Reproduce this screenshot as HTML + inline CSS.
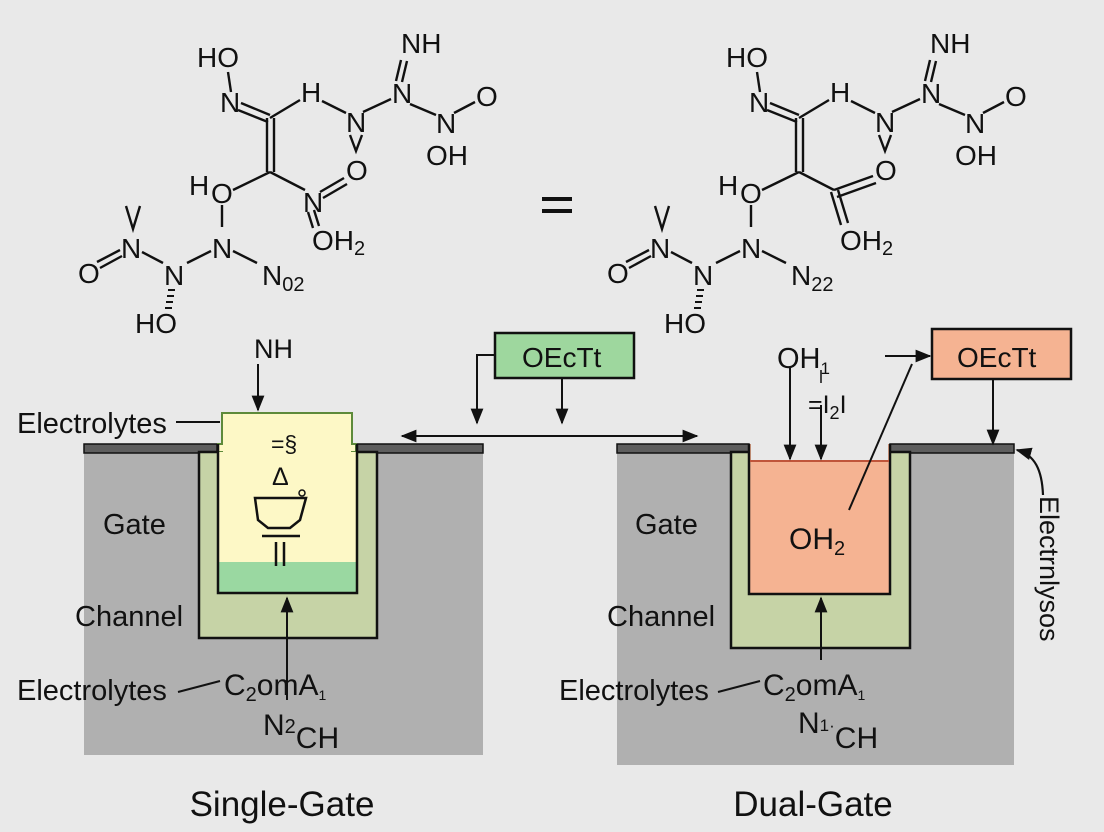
<!DOCTYPE html>
<html><head><meta charset="utf-8"><style>
html,body{margin:0;padding:0;background:#e9e9e9;}
svg{display:block;}
text{font-family:"Liberation Sans",sans-serif;fill:#111;}
</style></head><body>
<svg width="1104" height="832" viewBox="0 0 1104 832" xmlns="http://www.w3.org/2000/svg">
<defs>
<marker id="ab" viewBox="0 0 10 10" refX="9" refY="5" markerWidth="16" markerHeight="16" orient="auto-start-reverse" markerUnits="userSpaceOnUse"><path d="M0,1 L10,5 L0,9 z" fill="#111"/></marker>
<g id="molbase" stroke="#111" stroke-width="2.4" fill="none">
<line x1="228" y1="72" x2="231" y2="92"/>
<line x1="238" y1="110" x2="268" y2="122"/><line x1="241" y1="103" x2="270" y2="115"/>
<line x1="270" y1="118" x2="300" y2="100"/>
<line x1="322" y1="101" x2="346" y2="113"/>
<line x1="363" y1="112" x2="391" y2="99"/>
<line x1="396" y1="81" x2="401" y2="60"/><line x1="402" y1="82" x2="407" y2="61"/>
<line x1="410" y1="104" x2="436" y2="115"/>
<line x1="454" y1="113" x2="475" y2="102"/>
<line x1="267" y1="118" x2="267" y2="172"/><line x1="274" y1="118" x2="274" y2="172"/>
<line x1="270" y1="172" x2="233" y2="190"/>
<line x1="270" y1="172" x2="305" y2="190"/>
<line x1="222" y1="205" x2="222" y2="227"/>
<line x1="211" y1="251" x2="187" y2="263"/>
<line x1="233" y1="251" x2="257" y2="263"/>
<line x1="142" y1="252" x2="163" y2="263"/>
<line x1="97" y1="262" x2="120" y2="250"/><line x1="100" y1="268" x2="122" y2="256"/>
<g stroke-width="2"><line x1="168" y1="290" x2="175" y2="290"/><line x1="167" y1="296" x2="174" y2="296"/><line x1="166" y1="302" x2="173" y2="302"/><line x1="165" y1="308" x2="172" y2="308"/></g>
</g>
</defs>

<!-- Left molecule -->
<use href="#molbase"/>
<g stroke="#111" stroke-width="2.4" fill="none">
<line x1="320" y1="192" x2="344" y2="178"/><line x1="323" y1="198" x2="347" y2="184"/>
<line x1="308" y1="212" x2="313" y2="228"/><line x1="314" y1="210" x2="319" y2="226"/>
<path d="M350,135 L356,151 L362,135"/>
<path d="M126,206 L133,229 L140,206"/>
</g>
<g font-size="28">
<text x="197" y="67">HO</text>
<text x="220" y="112">N</text>
<text x="301" y="102">H</text>
<text x="346" y="132">N</text>
<text x="392" y="103">N</text>
<text x="401" y="53">NH</text>
<text x="436" y="133">N</text>
<text x="476" y="106">O</text>
<text x="426" y="165">OH</text>
<text x="346" y="180">O</text>
<text x="303" y="212">N</text>
<text x="312" y="250">OH<tspan font-size="20" dy="5">2</tspan></text>
<text x="189" y="195">H</text>
<text x="211" y="203">O</text>
<text x="212" y="258">N</text>
<text x="164" y="285">N</text>
<text x="135" y="333">HO</text>
<text x="262" y="285">N<tspan font-size="20" dy="6">02</tspan></text>
<text x="121" y="258">N</text>
<text x="78" y="283">O</text>
</g>

<rect x="542" y="197" width="30" height="4" fill="#111"/>
<rect x="542" y="209" width="30" height="4" fill="#111"/>

<!-- Right molecule -->
<g transform="translate(529,0)">
<use href="#molbase"/>
<g stroke="#111" stroke-width="2.4" fill="none">
<line x1="305" y1="190" x2="344" y2="176"/><line x1="308" y1="197" x2="347" y2="183"/>
<line x1="302" y1="192" x2="312" y2="225"/><line x1="309" y1="190" x2="319" y2="223"/>
<path d="M350,135 L356,151 L362,135"/>
<path d="M126,206 L133,229 L140,206"/>
</g>
<g font-size="28">
<text x="197" y="67">HO</text>
<text x="220" y="112">N</text>
<text x="301" y="102">H</text>
<text x="346" y="132">N</text>
<text x="392" y="103">N</text>
<text x="401" y="53">NH</text>
<text x="436" y="133">N</text>
<text x="476" y="106">O</text>
<text x="426" y="165">OH</text>
<text x="346" y="180">O</text>
<text x="311" y="250">OH<tspan font-size="20" dy="5">2</tspan></text>
<text x="189" y="195">H</text>
<text x="211" y="203">O</text>
<text x="212" y="258">N</text>
<text x="164" y="285">N</text>
<text x="135" y="333">HO</text>
<text x="262" y="285">N<tspan font-size="20" dy="6">22</tspan></text>
<text x="121" y="258">N</text>
<text x="78" y="283">O</text>
</g>
</g>

<!-- ===== Left device ===== -->
<rect x="84" y="452" width="399" height="303" fill="#b0b0b0"/>
<rect x="84" y="444" width="133" height="9" fill="#5e5e5e" stroke="#111" stroke-width="1.5"/>
<rect x="357" y="444" width="126" height="9" fill="#5e5e5e" stroke="#111" stroke-width="1.5"/>
<rect x="199" y="452" width="178" height="186" fill="#c6d3a6" stroke="#111" stroke-width="2.5"/>
<path d="M218,452 L218,444 L222,444 L222,413 L352,413 L352,444 L356,444 L356,452 Z" fill="#fdf8c6" stroke="#5d8a3a" stroke-width="2"/>
<rect x="218" y="452" width="139" height="141" fill="#fdf8c6"/>
<rect x="218" y="562" width="139" height="31" fill="#9ad8a1"/>
<rect x="223" y="415" width="128" height="40" fill="#fdf8c6"/>
<path d="M218,444 L218,593 L357,593 L357,444" fill="none" stroke="#111" stroke-width="2.5"/>
<text x="271" y="452" font-size="23">=§</text>
<text x="272" y="485" font-size="25">Δ</text>
<path d="M255,498 L306,498 L300,520 L290,528 L268,528 L258,520 Z" fill="none" stroke="#111" stroke-width="2.5"/>
<circle cx="302" cy="493" r="3" fill="none" stroke="#111" stroke-width="1.5"/>
<line x1="262" y1="536" x2="300" y2="536" stroke="#111" stroke-width="2.5"/>
<line x1="276" y1="542" x2="276" y2="566" stroke="#111" stroke-width="2.5"/>
<line x1="284" y1="542" x2="284" y2="566" stroke="#111" stroke-width="2.5"/>
<text x="254" y="358" font-size="27">NH</text>
<line x1="258" y1="364" x2="258" y2="410" stroke="#111" stroke-width="2" marker-end="url(#ab)"/>
<line x1="287" y1="700" x2="287" y2="598" stroke="#111" stroke-width="2" marker-end="url(#ab)"/>
<text x="17" y="433" font-size="29">Electrolytes</text>
<line x1="176" y1="422" x2="220" y2="422" stroke="#111" stroke-width="2"/>
<text x="103" y="534" font-size="29">Gate</text>
<text x="75" y="626" font-size="29">Channel</text>
<text x="17" y="700" font-size="29">Electrolytes</text>
<line x1="178" y1="692" x2="220" y2="681" stroke="#111" stroke-width="2"/>
<text x="224" y="695" font-size="30">C<tspan font-size="20" dy="6">2</tspan><tspan dy="-6">omA</tspan><tspan font-size="14" dy="5">1</tspan></text>
<text x="263" y="735" font-size="30">N<tspan font-size="20" dy="-2">2</tspan><tspan dy="15">CH</tspan></text>

<rect x="495" y="333" width="139" height="45" fill="#9ed79e" stroke="#111" stroke-width="2.5"/>
<text x="522" y="367" font-size="28">OEcTt</text>
<path d="M495,355 L477,355 L477,423" fill="none" stroke="#111" stroke-width="2" marker-end="url(#ab)"/>
<line x1="562" y1="379" x2="562" y2="423" stroke="#111" stroke-width="2" marker-end="url(#ab)"/>
<line x1="402" y1="436" x2="697" y2="436" stroke="#111" stroke-width="2" marker-start="url(#ab)" marker-end="url(#ab)"/>

<!-- ===== Right device ===== -->
<rect x="617" y="452" width="397" height="313" fill="#b0b0b0"/>
<rect x="617" y="444" width="132" height="9" fill="#5e5e5e" stroke="#111" stroke-width="1.5"/>
<rect x="890" y="444" width="124" height="9" fill="#5e5e5e" stroke="#111" stroke-width="1.5"/>
<rect x="731" y="452" width="179" height="196" fill="#c6d3a6" stroke="#111" stroke-width="2.5"/>
<path d="M749,444 L749,594 L890,594 L890,444" fill="#f5b392" stroke="#111" stroke-width="2.5"/>
<rect x="751" y="444" width="137" height="16" fill="#e9e9e9"/>
<line x1="750" y1="461" x2="889" y2="461" stroke="#c0553a" stroke-width="2"/>
<text x="777" y="368" font-size="29">OH<tspan font-size="17" dy="6">1</tspan></text>
<line x1="790" y1="367" x2="790" y2="459" stroke="#111" stroke-width="2" marker-end="url(#ab)"/>
<line x1="821" y1="405" x2="821" y2="459" stroke="#111" stroke-width="2" marker-end="url(#ab)"/>
<line x1="821" y1="383" x2="821" y2="370" stroke="#111" stroke-width="1.5"/>
<text x="808" y="413" font-size="25">=I<tspan font-size="18" dy="6">2</tspan><tspan dy="-6">I</tspan></text>
<line x1="912" y1="364" x2="849" y2="510" stroke="#111" stroke-width="2"/>
<line x1="885" y1="356" x2="930" y2="356" stroke="#111" stroke-width="2" marker-end="url(#ab)"/>
<rect x="932" y="329" width="139" height="50" fill="#f5b392" stroke="#111" stroke-width="2.5"/>
<text x="957" y="367" font-size="28">OEcTt</text>
<line x1="993" y1="379" x2="993" y2="444" stroke="#111" stroke-width="2" marker-end="url(#ab)"/>
<path d="M1043,495 C1042,470 1035,455 1017,450" fill="none" stroke="#111" stroke-width="2.2" marker-end="url(#ab)"/>
<text transform="translate(1040,496) rotate(90)" font-size="27">Electrnlysos</text>
<text x="635" y="534" font-size="29">Gate</text>
<text x="607" y="626" font-size="29">Channel</text>
<text x="789" y="549" font-size="30">OH<tspan font-size="20" dy="6">2</tspan></text>
<line x1="821" y1="660" x2="821" y2="598" stroke="#111" stroke-width="2" marker-end="url(#ab)"/>
<text x="559" y="700" font-size="29">Electrolytes</text>
<line x1="718" y1="692" x2="760" y2="681" stroke="#111" stroke-width="2"/>
<text x="763" y="695" font-size="30">C<tspan font-size="20" dy="6">2</tspan><tspan dy="-6">omA</tspan><tspan font-size="14" dy="5">1</tspan></text>
<text x="798" y="733" font-size="30">N<tspan font-size="17" dy="-2">1·</tspan><tspan dy="17">CH</tspan></text>

<text x="282" y="816" font-size="35" text-anchor="middle">Single-Gate</text>
<text x="813" y="816" font-size="35" text-anchor="middle">Dual-Gate</text>
</svg>
</body></html>
